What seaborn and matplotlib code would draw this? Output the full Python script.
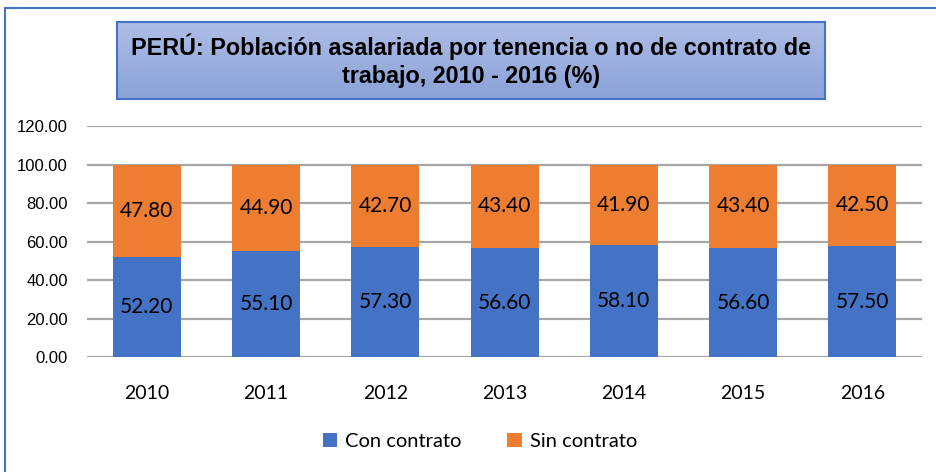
import matplotlib
matplotlib.use("Agg")
import matplotlib.pyplot as plt
import seaborn as sns
import numpy as np
import pandas as pd
from matplotlib.patches import Rectangle
from matplotlib.colors import LinearSegmentedColormap

# Datos del gráfico
anios = ["2010", "2011", "2012", "2013", "2014", "2015", "2016"]
con_contrato = [52.20, 55.10, 57.30, 56.60, 58.10, 56.60, 57.50]
sin_contrato = [47.80, 44.90, 42.70, 43.40, 41.90, 43.40, 42.50]
yticks = [0, 20, 40, 60, 80, 100, 120]

azul = "#4472C4"
naranja = "#ED7D31"

sns.set_theme(style="white")
plt.rcParams['font.family'] = ['Liberation Sans', 'DejaVu Sans']
plt.rcParams['text.color'] = 'black'
plt.rcParams['xtick.color'] = 'black'
plt.rcParams['ytick.color'] = 'black'

df = pd.DataFrame({"anio": anios, "con": con_contrato, "sin": sin_contrato})
df["total"] = df["con"] + df["sin"]

fig = plt.figure(figsize=(9.37, 4.72), dpi=100)
ax = fig.add_axes([0.093, 0.2436, 0.891, 0.4894])

# Barras apiladas: total (naranja) debajo y con contrato (azul) encima
sns.barplot(data=df, x="anio", y="total", color=naranja, width=0.57,
            saturation=1, ax=ax, zorder=3, label="Sin contrato", linewidth=0)
sns.barplot(data=df, x="anio", y="con", color=azul, width=0.57,
            saturation=1, ax=ax, zorder=3, label="Con contrato", linewidth=0)
if ax.get_legend() is not None:
    ax.get_legend().remove()

# Etiquetas de datos
for i, (c, s) in enumerate(zip(con_contrato, sin_contrato)):
    ax.text(i, c / 2, f"{c:.2f}", ha="center", va="center", fontsize=15,
            family=["Lato", "DejaVu Sans"], color="black", zorder=4)
    ax.text(i, c + s / 2, f"{s:.2f}", ha="center", va="center", fontsize=15,
            family=["Lato", "DejaVu Sans"], color="black", zorder=4)

ax.set_ylim(0, 120)
ax.set_yticks(yticks)
ax.set_yticklabels([f"{v:.2f}" for v in yticks], fontsize=12,
                   family=["Liberation Sans Narrow", "Liberation Sans"])
ax.set_xlim(-0.5, len(anios) - 0.5)
ax.tick_params(axis="x", labelsize=14, pad=20, length=0)
ax.tick_params(axis="y", pad=14, length=0)
for lbl in ax.get_xticklabels():
    lbl.set_family(["Lato", "DejaVu Sans"])
ax.set_xlabel("")
ax.set_ylabel("")
ax.yaxis.grid(True, color="#A6A6A6", linewidth=1.6, zorder=0)
for sp in ax.spines.values():
    sp.set_visible(False)

# Leyenda
handles, labels = ax.get_legend_handles_labels()
order = [labels.index("Con contrato"), labels.index("Sin contrato")]
fig.legend([handles[k] for k in order], [labels[k] for k in order],
           loc="center", bbox_to_anchor=(0.512, 0.065), ncol=2, frameon=False,
           prop={"family": ["Lato", "DejaVu Sans"], "size": 14.5},
           handlelength=0.7, handleheight=0.7, handletextpad=0.4,
           columnspacing=2.3)

# Borde exterior
fig.patches.append(Rectangle((5 / 937, -0.1), 2, 1 - 8 / 472 + 0.1,
                             transform=fig.transFigure, fill=False,
                             edgecolor="#4472C4", linewidth=1.5))

# Cuadro del título con degradado
tax = fig.add_axes([117 / 937, 1 - 99 / 472, (825 - 117) / 937, (99 - 22) / 472])
grad = np.linspace(0, 1, 100).reshape(-1, 1)
cmap = LinearSegmentedColormap.from_list("g", ["#AEBDE6", "#8AA2D8"])
tax.imshow(grad, aspect="auto", cmap=cmap, extent=[0, 1, 0, 1], origin="upper")
tax.set_xticks([])
tax.set_yticks([])
for sp in tax.spines.values():
    sp.set_color("#4472C4")
    sp.set_linewidth(1.5)
tax.text(0.5, 0.5, "PERÚ: Población asalariada por tenencia o no de contrato de\ntrabajo, 2010 - 2016 (%)",
         ha="center", va="center", fontsize=16.8, fontweight="bold",
         family=["Liberation Sans Narrow", "Liberation Sans"], color="black",
         linespacing=1.3, transform=tax.transAxes)

fig.savefig("out.png", dpi=100)
